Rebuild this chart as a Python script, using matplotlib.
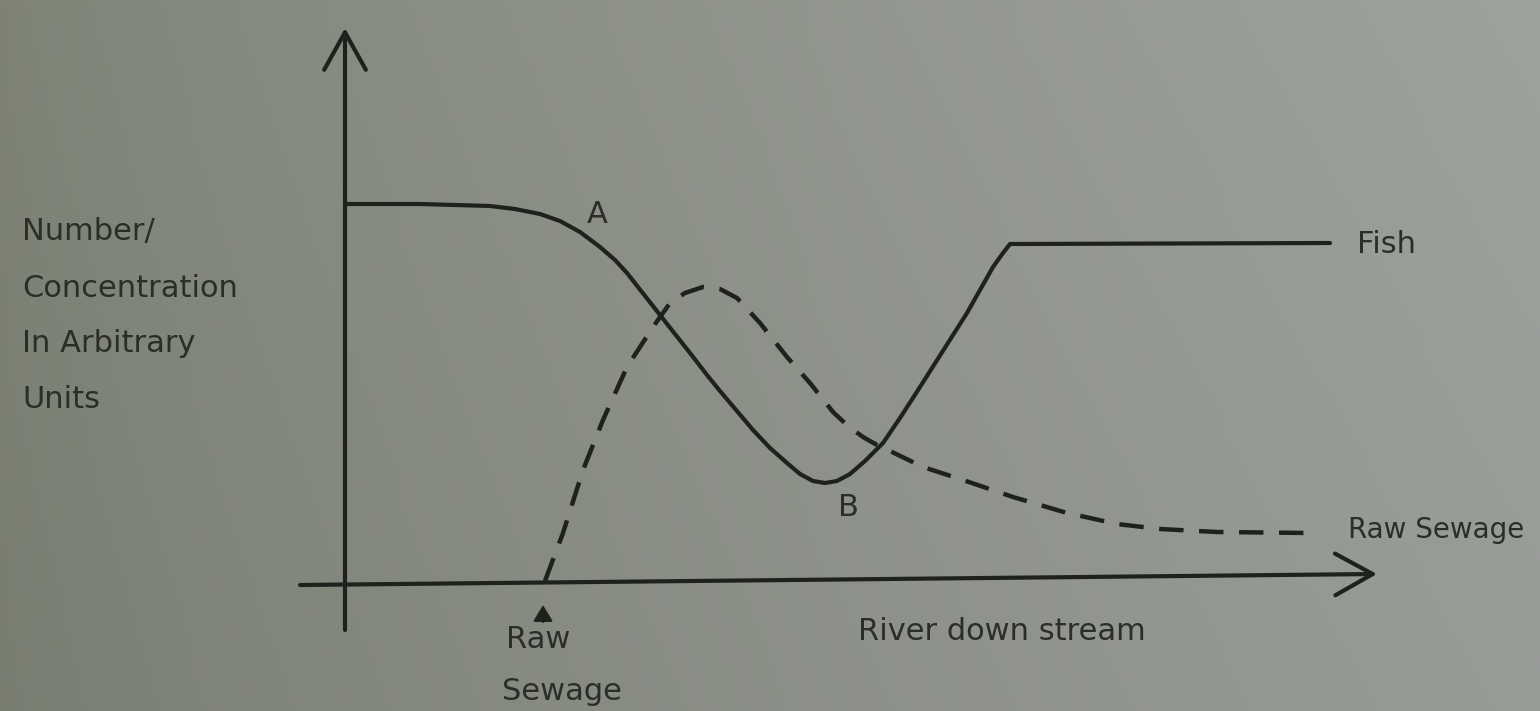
import numpy as np
import matplotlib.pyplot as plt

# Fish numbers along the river (distance downstream, arbitrary units)
fish_x = [0.00, 0.75, 1.45, 1.70, 1.95, 2.15, 2.35, 2.55, 2.70, 2.82, 3.15, 3.45,
          3.62, 3.75, 4.08, 4.25, 4.42, 4.55, 4.68, 4.80, 4.92, 5.05, 5.20, 5.38,
          5.55, 5.75, 6.22, 6.48, 6.58, 6.65, 9.85]
fish_y = [3.77, 3.77, 3.75, 3.72, 3.67, 3.60, 3.49, 3.34, 3.21, 3.08, 2.66, 2.28,
          2.06, 1.90, 1.51, 1.33, 1.18, 1.07, 1.00, 0.98, 1.00, 1.07, 1.20, 1.38,
          1.63, 1.94, 2.68, 3.14, 3.28, 3.37, 3.38]

# Raw sewage concentration, released at x = 2
sew_x = [2.00, 2.18, 2.38, 2.58, 2.82, 3.08, 3.25, 3.40, 3.58, 3.75, 3.92, 4.15,
         4.42, 4.65, 4.88, 5.03, 5.18, 5.32, 5.45, 5.78, 6.18, 6.68, 7.22, 7.45,
         7.72, 8.15, 8.72, 9.65]
sew_y = [0.00, 0.48, 1.11, 1.61, 2.14, 2.54, 2.78, 2.88, 2.94, 2.92, 2.83, 2.58,
         2.24, 1.98, 1.69, 1.55, 1.44, 1.36, 1.30, 1.14, 1.01, 0.84, 0.68, 0.63,
         0.57, 0.52, 0.49, 0.48]

ylabel_lines = ["Number/", "Concentration", "In Arbitrary", "Units"]

ink = "#1f211d"
txt = "#2b2d29"
font = "DejaVu Sans"
fs = 22

fig = plt.figure(figsize=(15.4, 7.11), dpi=100)

# paper background, darker on the left, lighter on the right
bg = fig.add_axes([0, 0, 1, 1], zorder=0)
gx = np.linspace(0, 1, 200)
gy = np.linspace(0, 1, 100)
GX, GY = np.meshgrid(gx, gy)
left = np.array([0x7e, 0x83, 0x76]) / 255
right = np.array([0x9e, 0xa2, 0x9d]) / 255
t = (GX ** 0.8)[..., None]
img = left * (1 - t) + right * t
img = img * (0.96 + 0.04 * GY[..., None])
bg.imshow(np.clip(img, 0, 1), aspect="auto", extent=[0, 1, 0, 1], origin="lower")
bg.set_axis_off()

ax = fig.add_axes([0, 0, 1, 1], zorder=1)
ax.patch.set_alpha(0)
ax.set_xlim(-3.45, 11.95)
ax.set_ylim(-1.30, 5.81)
ax.set_axis_off()

# axes drawn as open arrows
arrow = dict(arrowstyle="->,head_length=1.35,head_width=0.75", lw=3.0,
             color=ink, shrinkA=0, shrinkB=0)
ax.annotate("", xy=(0, 5.53), xytext=(0, -0.49), arrowprops=arrow,
            annotation_clip=False, fontsize=20)
ax.annotate("", xy=(10.32, 0.07), xytext=(-0.45, -0.04), arrowprops=arrow,
            annotation_clip=False, fontsize=20)

ax.plot(fish_x, fish_y, color=ink, lw=3.0, solid_joinstyle="round",
        solid_capstyle="round")
ax.plot(sew_x, sew_y, color=ink, lw=3.2, linestyle=(0, (5.5, 3.5)))

# point labels
ax.text(2.52, 3.66, "A", fontsize=fs, family=font, color=txt, ha="center", va="center")
ax.text(5.03, 0.73, "B", fontsize=fs, family=font, color=txt, ha="center", va="center")

ax.text(10.12, 3.36, "Fish", fontsize=fs, family=font, color=txt, va="center")
ax.text(10.03, 0.51, "Raw Sewage", fontsize=20, family=font, color=txt, va="center")

# sewage input marker
ax.annotate("", xy=(1.98, -0.24), xytext=(1.98, -0.41),
            arrowprops=dict(arrowstyle="-|>,head_length=0.5,head_width=0.3",
                            lw=1.5, color=ink, shrinkA=0, shrinkB=0),
            fontsize=20)
ax.text(1.93, -0.59, "Raw", fontsize=fs, family=font, color=txt, ha="center", va="center")
ax.text(1.57, -1.11, "Sewage", fontsize=fs, family=font, color=txt, va="center")

ax.text(5.13, -0.51, "River down stream", fontsize=fs, family=font, color=txt, va="center")

for yy, s in zip([3.49, 2.92, 2.37, 1.81], ylabel_lines):
    ax.text(-3.23, yy, s, fontsize=fs, family=font, color=txt, va="center")

fig.savefig("out.png", dpi=100)
